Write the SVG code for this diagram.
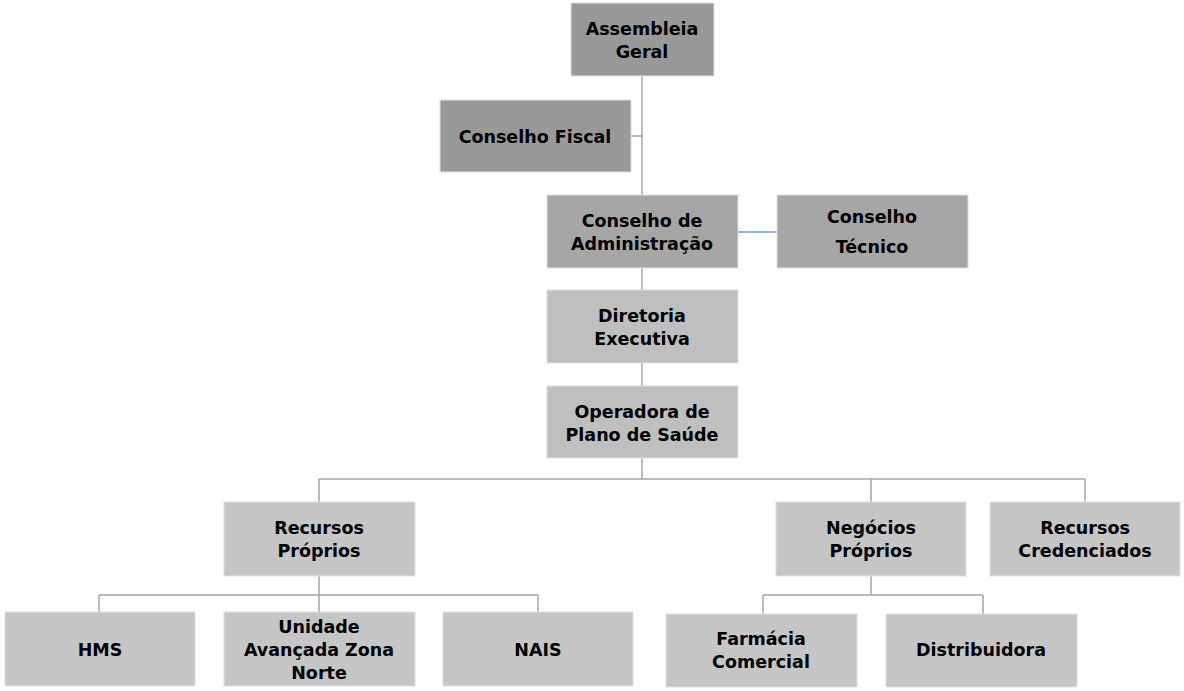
<svg xmlns="http://www.w3.org/2000/svg" width="1184" height="691" viewBox="0 0 1184 691">
<style>
.n{stroke:#e0e0e0;stroke-width:1}
.d{fill:#999}.m{fill:#a6a6a6}.l{fill:#bfbfbf}.x{fill:#c6c6c6}
text{font-family:"DejaVu Sans",Verdana,sans-serif;font-weight:bold;font-size:17.5px;fill:#000;text-anchor:middle}
#c path{fill:none;stroke:#a6a6a6;stroke-width:1.5}
</style>
<rect width="1184" height="691" fill="#fff"/>
<g id="c">
<path d="M642 76V195M631 136H642M642 268V290M642 363V386M642 458V479M319 479H1085M319 479V502M871 479V502M1085 479V502M319 576V612M99 595H538M99 595V612M538 595V612M871 576V595M763 595H983M763 595V614M983 595V614"/>
<path d="M738 232H777" style="stroke:#6f9ee0"/>
</g>
<g id="assembleia"><rect class="n d" x="571" y="3" width="143" height="73"/><text x="642" y="35">Assembleia</text><text x="642" y="58">Geral</text></g>
<g id="fiscal"><rect class="n d" x="440" y="100" width="191" height="72"/><text x="535" y="143">Conselho Fiscal</text></g>
<g id="adm"><rect class="n m" x="547" y="195" width="191" height="73"/><text x="642" y="227">Conselho de</text><text x="642" y="250">Administração</text></g>
<g id="tecnico"><rect class="n m" x="777" y="195" width="191" height="73"/><text x="872" y="223">Conselho</text><text x="872" y="253">Técnico</text></g>
<g id="diretoria"><rect class="n l" x="547" y="290" width="191" height="73"/><text x="642" y="322">Diretoria</text><text x="642" y="345">Executiva</text></g>
<g id="operadora"><rect class="n l" x="547" y="386" width="191" height="72"/><text x="642" y="418">Operadora de</text><text x="642" y="441">Plano de Saúde</text></g>
<g id="recproprios"><rect class="n x" x="224" y="502" width="191" height="74"/><text x="319" y="534">Recursos</text><text x="319" y="557">Próprios</text></g>
<g id="negocios"><rect class="n x" x="776" y="502" width="190" height="74"/><text x="871" y="534">Negócios</text><text x="871" y="557">Próprios</text></g>
<g id="credenciados"><rect class="n x" x="990" y="502" width="190" height="74"/><text x="1085" y="534">Recursos</text><text x="1085" y="557">Credenciados</text></g>
<g id="hms"><rect class="n x" x="5" y="612" width="190" height="74"/><text x="100" y="656">HMS</text></g>
<g id="unidade"><rect class="n x" x="224" y="612" width="191" height="74"/><text x="319" y="633">Unidade</text><text x="319" y="656">Avançada Zona</text><text x="319" y="679">Norte</text></g>
<g id="nais"><rect class="n x" x="443" y="612" width="190" height="74"/><text x="538" y="656">NAIS</text></g>
<g id="farmacia"><rect class="n x" x="666" y="614" width="191" height="73"/><text x="761" y="645">Farmácia</text><text x="761" y="668">Comercial</text></g>
<g id="distribuidora"><rect class="n x" x="886" y="614" width="191" height="73"/><text x="981" y="656">Distribuidora</text></g>
</svg>
